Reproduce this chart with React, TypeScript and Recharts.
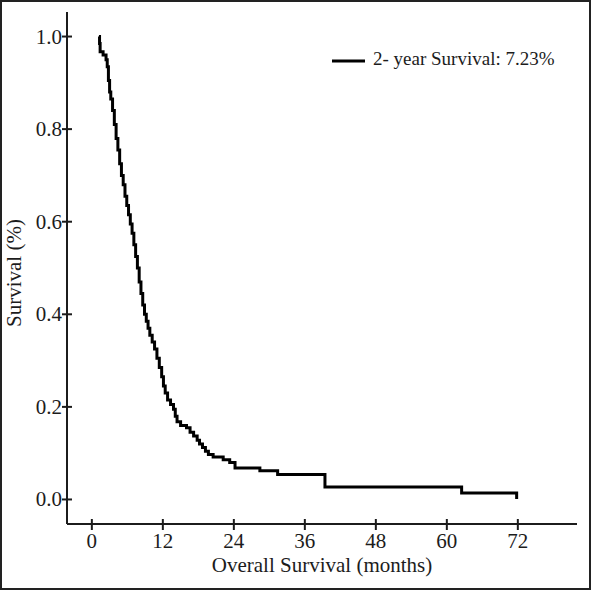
import React from 'react';
import { LineChart, Line, XAxis, YAxis, Legend, Label } from 'recharts';

const months = [
  1.2, 1.3, 1.4, 1.9, 2.4, 2.6, 2.8, 3.0, 3.2, 3.5, 3.8, 4.1, 4.4, 4.7, 5.0, 5.3, 5.6, 5.9,
  6.2, 6.5, 6.8, 7.1, 7.4, 7.7, 8.0, 8.3, 8.6, 8.9, 9.2, 9.5, 9.8, 10.2, 10.6, 11.0, 11.4,
  11.8, 12.1, 12.4, 12.8, 13.3, 13.8, 14.1, 14.4, 15.0, 16.0, 16.6, 17.2, 17.8, 18.2, 18.7,
  19.2, 19.7, 20.5, 22.2, 23.3, 24.2, 28.4, 31.4, 39.4, 62.5, 71.8,
];
const survival = [
  1.0, 0.985, 0.967, 0.96, 0.95, 0.935, 0.905, 0.88, 0.865, 0.84, 0.81, 0.78, 0.755, 0.725,
  0.7, 0.68, 0.655, 0.635, 0.615, 0.595, 0.575, 0.55, 0.525, 0.5, 0.47, 0.445, 0.42, 0.4,
  0.385, 0.37, 0.355, 0.34, 0.325, 0.305, 0.285, 0.265, 0.245, 0.23, 0.215, 0.205, 0.195,
  0.18, 0.168, 0.16, 0.155, 0.145, 0.137, 0.128, 0.12, 0.112, 0.104, 0.097, 0.092, 0.086,
  0.08, 0.068, 0.062, 0.054, 0.027, 0.014, 0.001,
];
const xTicks = [0, 12, 24, 36, 48, 60, 72];
const yTicks = [0, 0.2, 0.4, 0.6, 0.8, 1.0];
const legendText = '2- year Survival: 7.23%';
const xTitle = 'Overall Survival (months)';
const yTitle = 'Survival (%)';

const data = months.map((m, i) => ({ month: m, survival: survival[i] }));

const FONT = '"Liberation Serif", "Times New Roman", serif';
const INK = '#1c1c1c';

const XTick = (props: any) => {
  const { x, y, payload } = props;
  return (
    <g>
      <line x1={x} x2={x} y1={y - 5} y2={y + 6} stroke={INK} strokeWidth={2} />
      <text x={x} y={y + 24} textAnchor="middle" fontFamily={FONT} fontSize={21} fill={INK}>
        {payload.value}
      </text>
    </g>
  );
};

const YTick = (props: any) => {
  const { x, y, payload } = props;
  return (
    <g>
      <line x1={x - 5} x2={x + 5} y1={y} y2={y} stroke={INK} strokeWidth={2} />
      <text x={x - 5} y={y + 7} textAnchor="end" fontFamily={FONT} fontSize={21} fill={INK}>
        {Number(payload.value).toFixed(1)}
      </text>
    </g>
  );
};

const LegendContent = () => (
  <svg width={250} height={30} style={{ display: 'block' }}>
    <line x1={2} x2={35} y1={15} y2={15} stroke="#000" strokeWidth={3} />
    <text x={43} y={19} fontFamily={FONT} fontSize={19} fill={INK}>
      {legendText}
    </text>
  </svg>
);

export default function App() {
  return (
    <div style={{ position: 'fixed', left: 0, top: 0, width: 591, height: 590, background: '#fff' }}>
      <LineChart
        width={591}
        height={590}
        data={data}
        margin={{ top: 12, right: 14, left: 0, bottom: 6 }}
      >
        <XAxis
          dataKey="month"
          type="number"
          domain={[-4.2, 82]}
          ticks={xTicks}
          allowDataOverflow
          interval={0}
          height={60}
          tickSize={0}
          tickMargin={0}
          tickLine={false}
          axisLine={{ stroke: INK, strokeWidth: 2 }}
          tick={<XTick />}
        >
          <Label
            content={(p: any) => {
              const vb = p.viewBox;
              return (
                <text
                  x={vb.x + vb.width / 2}
                  y={vb.y + 48}
                  textAnchor="middle"
                  fontFamily={FONT}
                  fontSize={21}
                  fill={INK}
                >
                  {xTitle}
                </text>
              );
            }}
          />
        </XAxis>
        <YAxis
          type="number"
          domain={[-0.053, 1.053]}
          ticks={yTicks}
          allowDataOverflow
          interval={0}
          width={67}
          tickSize={0}
          tickMargin={0}
          tickLine={false}
          axisLine={{ stroke: INK, strokeWidth: 2 }}
          tick={<YTick />}
        >
          <Label
            content={() => (
              <text
                x={21}
                y={273}
                transform="rotate(-90, 21, 273)"
                textAnchor="middle"
                fontFamily={FONT}
                fontSize={21}
                fill={INK}
              >
                {yTitle}
              </text>
            )}
          />
        </YAxis>
        <Legend
          layout="horizontal"
          verticalAlign="middle"
          align="center"
          content={<LegendContent />}
          wrapperStyle={{ position: 'absolute', left: 330, top: 46, width: 250, height: 30 }}
        />
        <Line
          type="stepAfter"
          dataKey="survival"
          stroke="#000"
          strokeWidth={3}
          dot={false}
          isAnimationActive={false}
          legendType="line"
        />
      </LineChart>
      <div
        style={{
          position: 'absolute',
          left: 0,
          top: 0,
          width: 591,
          height: 590,
          boxSizing: 'border-box',
          border: '2px solid #222',
          pointerEvents: 'none',
        }}
      />
    </div>
  );
}
